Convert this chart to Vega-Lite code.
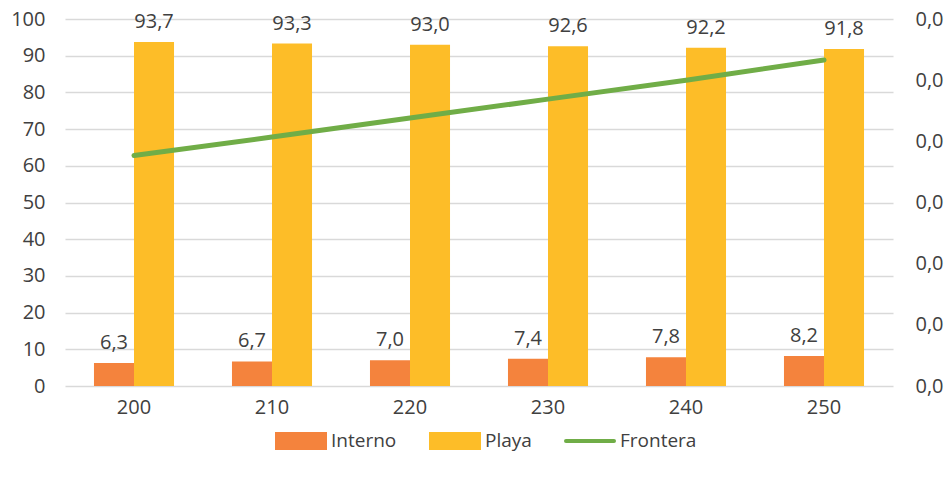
{
  "$schema": "https://vega.github.io/schema/vega-lite/v6.json",
  "width": 828,
  "height": 367,
  "autosize": {"type": "none"},
  "padding": {"left": 65, "top": 19, "right": 55, "bottom": 95},
  "background": "white",
  "config": {
    "view": {"stroke": null},
    "font": "Open Sans",
    "locale": {"number": {"decimal": ",", "thousands": ".", "grouping": [3], "currency": ["", " €"]}},
    "axis": {"labelFont": "Open Sans", "labelFontSize": 20, "labelColor": "#404040", "labelOverlap": false},
    "legend": {"labelFont": "Open Sans", "labelFontSize": 19, "labelColor": "#404040"}
  },
  "datasets": {
    "bars": [
      {"x": "200", "series": "Interno", "value": 6.3},
      {"x": "200", "series": "Playa", "value": 93.7},
      {"x": "210", "series": "Interno", "value": 6.7},
      {"x": "210", "series": "Playa", "value": 93.3},
      {"x": "220", "series": "Interno", "value": 7.0},
      {"x": "220", "series": "Playa", "value": 93.0},
      {"x": "230", "series": "Interno", "value": 7.4},
      {"x": "230", "series": "Playa", "value": 92.6},
      {"x": "240", "series": "Interno", "value": 7.8},
      {"x": "240", "series": "Playa", "value": 92.2},
      {"x": "250", "series": "Interno", "value": 8.2},
      {"x": "250", "series": "Playa", "value": 91.8}
    ],
    "line": [
      {"x": "200", "series": "Frontera", "value": 0.00377},
      {"x": "210", "series": "Frontera", "value": 0.00407},
      {"x": "220", "series": "Frontera", "value": 0.00438},
      {"x": "230", "series": "Frontera", "value": 0.00469},
      {"x": "240", "series": "Frontera", "value": 0.00500},
      {"x": "250", "series": "Frontera", "value": 0.00533}
    ]
  },
  "encoding": {
    "x": {
      "field": "x", "type": "nominal",
      "scale": {"paddingInner": 0.42, "paddingOuter": 0.21},
      "axis": {"title": null, "labelAngle": 0, "ticks": false, "domain": false, "labelPadding": 11, "grid": false}
    }
  },
  "layer": [
    {
      "data": {"name": "bars"},
      "encoding": {
        "xOffset": {"field": "series", "type": "nominal", "scale": {"paddingInner": 0, "paddingOuter": 0}},
        "y": {
          "field": "value", "type": "quantitative",
          "scale": {"domain": [0, 100], "nice": false},
          "axis": {"title": null, "values": [0,10,20,30,40,50,60,70,80,90,100], "tickCount": 11, "labelOverlap": false, "domain": false, "ticks": false, "labelPadding": 20, "gridColor": "#D9D9D9", "gridWidth": 1.5}
        }
      },
      "layer": [
        {
          "mark": {"type": "bar"},
          "encoding": {
            "color": {
              "field": "series", "type": "nominal",
              "scale": {"domain": ["Interno", "Playa", "Frontera"], "range": ["#F4833D", "#FDBD28", "#70AD47"]},
              "legend": {
                "title": null, "orient": "none", "direction": "horizontal", "legendX": 210, "legendY": 396,
                "symbolSize": 2304, "symbolStrokeWidth": 4, "labelOffset": 4, "columnPadding": 26,
                "encode": {
                  "symbols": {
                    "update": {
                      "shape": {"signal": "datum.value === 'Frontera' ? 'M-1,-0.29M-1,0.29M-1,0H1' : 'M-1,-0.29H1V0.29H-1Z'"},
                      "fill": {"signal": "datum.value === 'Frontera' ? 'transparent' : scale('color', datum.value)"},
                      "stroke": {"signal": "datum.value === 'Frontera' ? scale('color', datum.value) : 'transparent'"},
                      "strokeCap": {"value": "round"}
                    }
                  }
                }
              }
            }
          }
        },
        {
          "mark": {"type": "text", "baseline": "bottom", "dy": -10, "fontSize": 20, "color": "#404040", "font": "Open Sans"},
          "encoding": {
            "text": {"field": "value", "type": "quantitative", "format": ".1f"}
          }
        }
      ]
    },
    {
      "data": {"name": "line"},
      "mark": {"type": "line", "strokeWidth": 5, "strokeCap": "round"},
      "encoding": {
        "y": {
          "field": "value", "type": "quantitative",
          "scale": {"domain": [0, 0.006], "nice": false},
          "axis": {"orient": "right", "title": null, "values": [0,0.001,0.002,0.003,0.004,0.005,0.006], "format": ".1f", "grid": false, "domain": false, "ticks": false, "labelPadding": 22}
        },
        "color": {"field": "series", "type": "nominal"}
      }
    }
  ],
  "resolve": {"scale": {"y": "independent"}}
}
